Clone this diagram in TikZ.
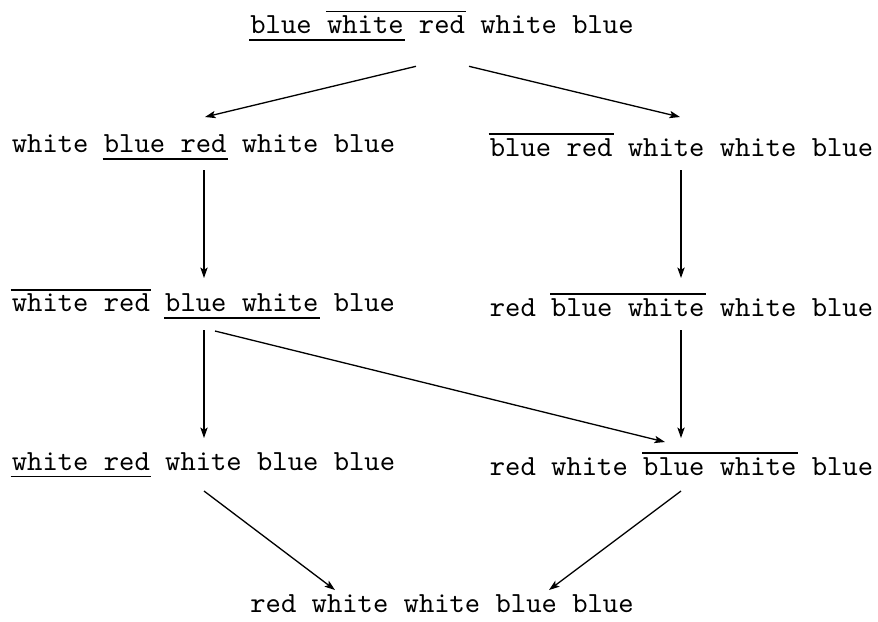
\documentclass[tikz,border=0pt]{standalone}
\usetikzlibrary{arrows.meta}
\newcommand\ovl[1]{\setbox2\hbox{\texttt{#1}}\rlap{\kern-0.4pt\rule[7.25pt]{\dimexpr\wd2+0.8pt\relax}{0.55pt}}\box2\relax}
\newcommand\unl[1]{\setbox0\hbox{\texttt{#1}}\rlap{\kern-0.4pt\rule[-2.5pt]{\dimexpr\wd0+0.8pt\relax}{0.55pt}}\box0\relax}
\newcommand\unlrule[1]{\setbox4\hbox{\texttt{#1}}\rlap{\kern-0.4pt\rule[-2.5pt]{\dimexpr\wd4+0.8pt\relax}{0.55pt}}}
\begin{document}
\begin{tikzpicture}[x=0.3425pt,y=-0.3425pt,
  word/.style={font=\ttfamily\fontsize{10pt}{12pt}\selectfont, inner sep=0pt, outer sep=0pt},
  arr/.style={line width=0.45pt, -{Stealth[length=3.6pt,width=2.5pt,inset=0.8pt]}}]
\useasboundingbox (0,0) rectangle (878,621);
\node[word, anchor=base] (t)  at (442,33.3)   {\unlrule{blue white}blue \ovl{white red} white blue};
\node[word, anchor=base] (l2) at (203.5,152.7) {white \unl{blue red} white blue};
\node[word, anchor=base] (r2) at (681.5,156)   {\ovl{blue red} white white blue};
\node[word, anchor=base] (l3) at (203.5,311.7) {\ovl{white red} \unl{blue white} blue};
\node[word, anchor=base] (r3) at (681.5,316)   {red \ovl{blue white} white blue};
\node[word, anchor=base] (l4) at (203.5,470)   {\unl{white red} white blue blue};
\node[word, anchor=base] (r4) at (681.5,475)   {red white \ovl{blue white} blue};
\node[word, anchor=base] (b)  at (442,612)     {red white white blue blue};
\draw[arr] ([shift={(-26,33)}]t.base) -- ([shift={(1.5,-35.7)}]l2.base);
\draw[arr] ([shift={(27,33)}]t.base) -- ([shift={(-1.5,-39)}]r2.base);
\draw[arr] ([shift={(0.5,17.3)}]l2.base) -- ([shift={(0.5,-33.7)}]l3.base);
\draw[arr] ([shift={(-0.5,14)}]r2.base) -- ([shift={(-0.5,-38)}]r3.base);
\draw[arr] ([shift={(0.5,18.3)}]l3.base) -- ([shift={(0.5,-32)}]l4.base);
\draw[arr] ([shift={(-0.5,14)}]r3.base) -- ([shift={(-0.5,-37)}]r4.base);
\draw[arr] ([shift={(11.5,19.3)}]l3.base) -- ([shift={(-16.5,-33)}]r4.base);
\draw[arr] ([shift={(0.5,21)}]l4.base) -- ([shift={(-107,-22)}]b.base);
\draw[arr] ([shift={(-0.5,16)}]r4.base) -- ([shift={(107,-22)}]b.base);
\end{tikzpicture}
\end{document}
